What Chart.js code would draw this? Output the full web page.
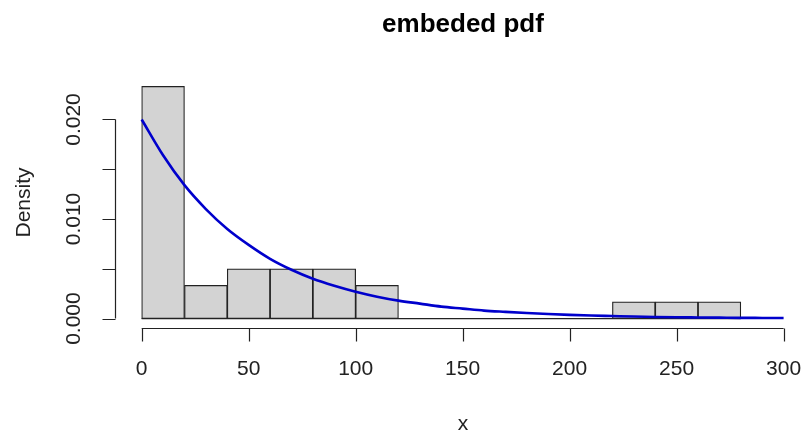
<!DOCTYPE html>
<html>
<head>
<meta charset="utf-8">
<script src="https://cdn.jsdelivr.net/npm/chart.js@4"></script>
<style>
  html, body { margin: 0; padding: 0; background: #fff; }
  #wrap { width: 805px; height: 437px; }
</style>
</head>
<body>
<div id="wrap"><canvas id="hist"></canvas></div>
<script>
// histogram bins (left edge) and density
const binStarts = [0, 20, 40, 60, 80, 100, 120, 140, 160, 180, 200, 220, 240, 260];
const binWidth = 20;
const binDensity = [0.02333, 0.00333, 0.005, 0.005, 0.005, 0.00333, 0, 0, 0, 0, 0, 0.00167, 0.00167, 0.00167];

// fitted density curve
const curveX = [0, 10, 20, 30, 40, 50, 60, 70, 80, 90, 100, 110, 120, 130, 140, 150,
  160, 170, 180, 190, 200, 210, 220, 230, 240, 250, 260, 270, 280, 290, 300];
const curveY = [0.0200, 0.0164, 0.0134, 0.0110, 0.0090, 0.0074, 0.0060, 0.0049, 0.0040, 0.0033,
  0.0027, 0.0022, 0.0018, 0.0015, 0.0012, 0.0010, 0.0008, 0.00067, 0.00055, 0.00045,
  0.00037, 0.00030, 0.00025, 0.00020, 0.00016, 0.00013, 0.00011, 0.00009, 0.00007, 0.00006, 0.00005];

const xTicks = [0, 50, 100, 150, 200, 250, 300];
const xTickLabels = ["0", "50", "100", "150", "200", "250", "300"];
const yTicks = [0, 0.005, 0.010, 0.015, 0.020];
const yTickLabels = ["0.000", "", "0.010", "", "0.020"];

const titleText = "embeded pdf";
const xTitle = "x";
const yTitle = "Density";

const FONT = "'Liberation Sans', Arial, sans-serif";

// R-style axes, labels and title
const baseAxes = {
  id: "baseAxes",
  afterDraw(chart) {
    const { ctx, chartArea: a, scales: { x, y } } = chart;
    ctx.save();
    ctx.strokeStyle = "#222";
    ctx.fillStyle = "#222";
    ctx.lineWidth = 1.2;

    // x axis
    const yb = Math.round(a.bottom) + 0.5;
    ctx.beginPath();
    ctx.moveTo(x.getPixelForValue(xTicks[0]), yb);
    ctx.lineTo(x.getPixelForValue(xTicks[xTicks.length - 1]), yb);
    xTicks.forEach(v => {
      const px = Math.round(x.getPixelForValue(v)) + 0.5;
      ctx.moveTo(px, yb);
      ctx.lineTo(px, yb + 13);
    });
    ctx.stroke();
    ctx.font = "21px " + FONT;
    ctx.textAlign = "center";
    ctx.textBaseline = "middle";
    xTicks.forEach((v, i) => {
      ctx.fillText(xTickLabels[i], x.getPixelForValue(v), yb + 41);
    });

    // y axis
    const xl = Math.round(a.left) - 0.5;
    ctx.beginPath();
    ctx.moveTo(xl, y.getPixelForValue(yTicks[0]));
    ctx.lineTo(xl, y.getPixelForValue(yTicks[yTicks.length - 1]));
    yTicks.forEach(v => {
      const py = Math.round(y.getPixelForValue(v)) + 0.5;
      ctx.moveTo(xl, py);
      ctx.lineTo(xl - 13, py);
    });
    ctx.stroke();
    yTicks.forEach((v, i) => {
      if (!yTickLabels[i]) return;
      ctx.save();
      ctx.translate(xl - 41, y.getPixelForValue(v));
      ctx.rotate(-Math.PI / 2);
      ctx.fillText(yTickLabels[i], 0, 0);
      ctx.restore();
    });

    // axis titles
    const cx = (a.left + a.right + 5) / 2;
    ctx.fillText(xTitle, cx, 424);
    ctx.save();
    ctx.translate(24, (a.top + a.bottom) / 2);
    ctx.rotate(-Math.PI / 2);
    ctx.fillText(yTitle, 0, 0);
    ctx.restore();

    // main title
    ctx.fillStyle = "#000";
    ctx.font = "bold 26px " + FONT;
    ctx.textBaseline = "alphabetic";
    ctx.fillText(titleText, cx, 32);
    ctx.restore();
  }
};

const barData = binStarts.map((s, i) => ({ x: s + binWidth / 2, y: binDensity[i] }));
const curveData = curveX.map((v, i) => ({ x: v, y: curveY[i] }));
const baseLine = [
  { x: binStarts[0], y: 0 },
  { x: binStarts[binStarts.length - 1] + binWidth, y: 0 }
];

new Chart(document.getElementById("hist"), {
  type: "bar",
  data: {
    datasets: [
      {
        type: "line",
        data: curveData,
        borderColor: "#0000CC",
        borderWidth: 2.6,
        pointRadius: 0,
        cubicInterpolationMode: "monotone",
        order: 0
      },
      {
        type: "line",
        data: baseLine,
        borderColor: "#222",
        borderWidth: 1.2,
        pointRadius: 0,
        order: 1
      },
      {
        type: "bar",
        data: barData,
        backgroundColor: "#D3D3D3",
        borderColor: "#222",
        borderWidth: 1.2,
        borderSkipped: false,
        barPercentage: 1,
        categoryPercentage: 1,
        order: 2
      }
    ]
  },
  options: {
    responsive: true,
    maintainAspectRatio: false,
    animation: false,
    layout: {
      padding: { left: 116, right: 0, top: 77, bottom: 109 }
    },
    scales: {
      x: { type: "linear", min: -12, max: 310, offset: false, display: false },
      y: { type: "linear", min: -0.00095, max: 0.02427, display: false }
    },
    plugins: {
      legend: { display: false },
      tooltip: { enabled: false }
    }
  },
  plugins: [baseAxes]
});
</script>
</body>
</html>
